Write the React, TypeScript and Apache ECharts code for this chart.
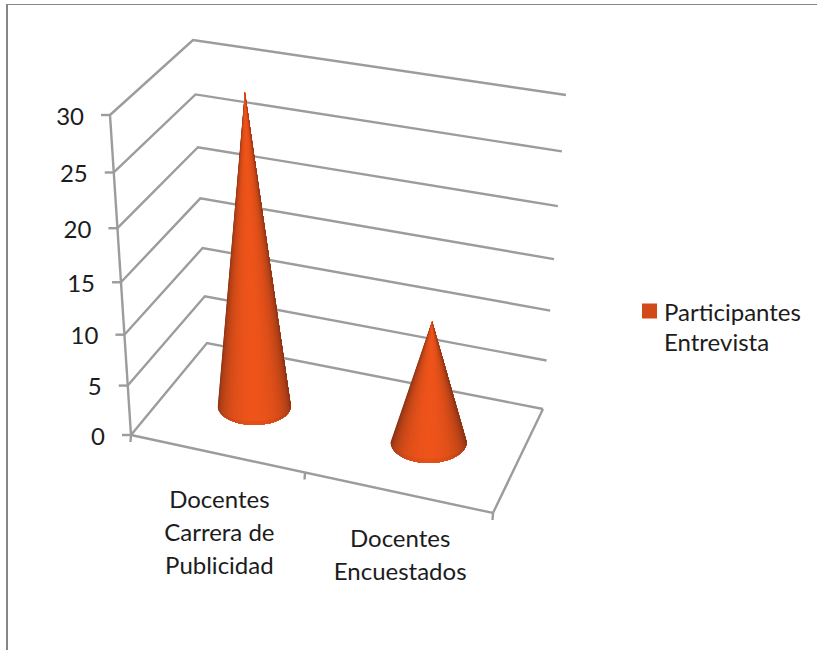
import React, { useEffect, useRef } from "react";
import * as echarts from "echarts";

const SERIES_NAME = "Participantes Entrevista";
const categories = ["Docentes\nCarrera de\nPublicidad", "Docentes\nEncuestados"];
const participantes = [30, 12];
const tickValues = [0, 5, 10, 15, 20, 25, 30];

const W = 817;
const H = 650;
const FONT = "Lato, 'Open Sans', sans-serif";
const FONT_SIZE = 24;
const TEXT = "#1c1c1c";
const GRID = "#9c9c9c";
const GRID_WIDTH = 2.4;

// perspective box of the 3D plot (screen px)
const floorQuad = { fl: [131, 435], fr: [493, 513], bl: [207, 343], br: [543, 409] };
const topQuad = { fl: [110, 115], fr: [529, 183], bl: [193, 40], br: [566, 95] };
const warp = (t: number, k: number) => t / (t + k * (1 - t));
const mix = (a: number[], b: number[], t: number) => [a[0] + (b[0] - a[0]) * t, a[1] + (b[1] - a[1]) * t];
const quadAt = (q: any, u: number, w: number) => mix(mix(q.fl, q.fr, u), mix(q.bl, q.br, u), w);
const project = (u: number, v: number, w: number) => {
  const uu = warp(u, 1.08);
  const vv = warp(v, 1.095);
  return mix(quadAt(floorQuad, uu, w), quadAt(topQuad, uu, w), vv);
};
// api.coord gives the library's scale position in a full-size grid; turn it into unit coordinates
const unit = (api: any, cat: number, val: number) => {
  const c = api.coord([cat, val]);
  return [c[0] / W, 1 - c[1] / H];
};

const hex = (c: number[]) => `rgb(${c.map((x) => Math.round(x)).join(",")})`;
const DARK = [122, 46, 20];
const BRIGHT = [238, 84, 26];
const coneRadii = [
  [36.5, 19],
  [38, 21],
];
const BASE_SHIFT = 3;

function renderGrid(_: any, api: any) {
  const [, v] = unit(api, 0, api.value(0));
  const a = project(0, v, 0);
  const b = project(0, v, 1);
  const c = project(1, v, 1);
  const style = { stroke: GRID, lineWidth: GRID_WIDTH, fill: "none" };
  const children: any[] = [
    { type: "polyline", shape: { points: [a, b, c] }, style },
    { type: "line", shape: { x1: a[0] - 9, y1: a[1], x2: a[0], y2: a[1] }, style },
    {
      type: "text",
      style: {
        text: String(api.value(0)),
        x: a[0] - 26,
        y: a[1],
        textAlign: "right",
        textVerticalAlign: "middle",
        font: `${FONT_SIZE}px ${FONT}`,
        fill: TEXT,
      },
    },
  ];
  return { type: "group", children };
}

function renderFrame(_: any, api: any) {
  const p0 = project(0, 0, 0);
  const p1 = project(0, 1, 0);
  const fr = project(1, 0, 0);
  const br = project(1, 0, 1);
  const mid = project(0.5, 0, 0);
  const style = { stroke: GRID, lineWidth: GRID_WIDTH, fill: "none" };
  const tick = (p: number[]) => ({
    type: "line",
    shape: { x1: p[0], y1: p[1], x2: p[0] - 0.5, y2: p[1] + 7 },
    style,
  });
  return {
    type: "group",
    children: [
      { type: "line", shape: { x1: p1[0], y1: p1[1], x2: p0[0], y2: p0[1] }, style },
      { type: "polyline", shape: { points: [p0, fr, br] }, style },
      tick(p0),
      tick(mid),
      tick(fr),
    ],
  };
}

function renderCone(params: any, api: any) {
  const i = params.dataIndex;
  const [u, v] = unit(api, i, api.value(1));
  const b = project(u, 0, 0.5);
  const base = [b[0] + BASE_SHIFT, b[1]];
  const apex = project(u, v, 0.5);
  const [rx, ry] = coneRadii[i];
  const n = 40;
  const arc: number[][] = [];
  for (let k = 0; k <= n; k++) {
    const t = Math.PI - (Math.PI * k) / n;
    arc.push([base[0] + rx * Math.cos(t), base[1] + ry * Math.sin(t)]);
  }
  const children: any[] = [];
  // each wedge also covers everything still to come, so neighbouring wedges leave no seams
  for (let k = 0; k < n; k++) {
    const shade = Math.pow(Math.sin((Math.PI * (k + 0.5)) / n), 0.8);
    const color = hex(DARK.map((d, j) => d + (BRIGHT[j] - d) * shade));
    children.push({
      type: "polygon",
      shape: { points: [apex, ...arc.slice(k)] },
      style: { fill: color },
    });
  }
  const inner = arc.map((p) => [p[0], base[1] + (p[1] - base[1]) * 0.8]).reverse();
  children.push({
    type: "polygon",
    shape: { points: [...arc, ...inner] },
    style: { fill: "rgba(90,30,10,0.07)" },
  });
  return { type: "group", children };
}

function renderCategory(params: any, api: any) {
  const [u] = unit(api, params.dataIndex, 0);
  const p = project(u, 0, 0);
  return {
    type: "text",
    style: {
      text: categories[params.dataIndex],
      x: p[0] + 3,
      y: p[1] + 29,
      textAlign: "center",
      textVerticalAlign: "top",
      font: `${FONT_SIZE}px ${FONT}`,
      lineHeight: 33,
      fill: TEXT,
    },
  };
}

export default function App() {
  const ref = useRef<HTMLDivElement>(null);
  useEffect(() => {
    if (!ref.current) return;
    const chart = echarts.init(ref.current, undefined, { renderer: "svg" });
    const catData = categories.map((c, i) => [c, participantes[i]]);
    chart.setOption({
      animation: false,
      backgroundColor: "#ffffff",
      grid: { left: 0, right: 0, top: 0, bottom: 0 },
      xAxis: { type: "category", data: categories, show: false },
      yAxis: { type: "value", min: 0, max: 30, interval: 5, show: false },
      legend: {
        left: 642,
        top: 296,
        orient: "vertical",
        padding: 0,
        selectedMode: false,
        data: [SERIES_NAME],
        itemWidth: 15,
        itemHeight: 45,
        icon: "path://M0 0H15V15H0Z M0 45L0.01 45L0.01 45Z",
        formatter: (name: string) => name.replace(" ", "\n"),
        textStyle: { fontFamily: FONT, fontSize: FONT_SIZE, lineHeight: 30, color: TEXT, padding: [0, 0, 0, 2] },
      },
      graphic: [
        { type: "line", silent: true, shape: { x1: 7, y1: 4, x2: 7, y2: H }, style: { stroke: "#868686", lineWidth: 2 } },
        { type: "line", silent: true, shape: { x1: 6, y1: 4.5, x2: W, y2: 4.5 }, style: { stroke: "#868686", lineWidth: 1 } },
      ],
      series: [
        { type: "custom", name: "grid", silent: true, z: 1, data: tickValues.map((t) => [t]), encode: { y: 0 }, renderItem: renderGrid },
        { type: "custom", name: "frame", silent: true, z: 1, data: [[0, 0]], renderItem: renderFrame },
        { type: "custom", name: "labels", silent: true, z: 1, data: catData, encode: { x: 0, y: 1 }, renderItem: renderCategory },
        {
          type: "custom",
          name: SERIES_NAME,
          silent: true,
          z: 3,
          data: catData,
          encode: { x: 0, y: 1 },
          itemStyle: { color: "#D2491A" },
          renderItem: renderCone,
        },
      ],
    });
    return () => chart.dispose();
  }, []);
  return <div ref={ref} style={{ position: "fixed", left: 0, top: 0, width: W, height: H }} />;
}
